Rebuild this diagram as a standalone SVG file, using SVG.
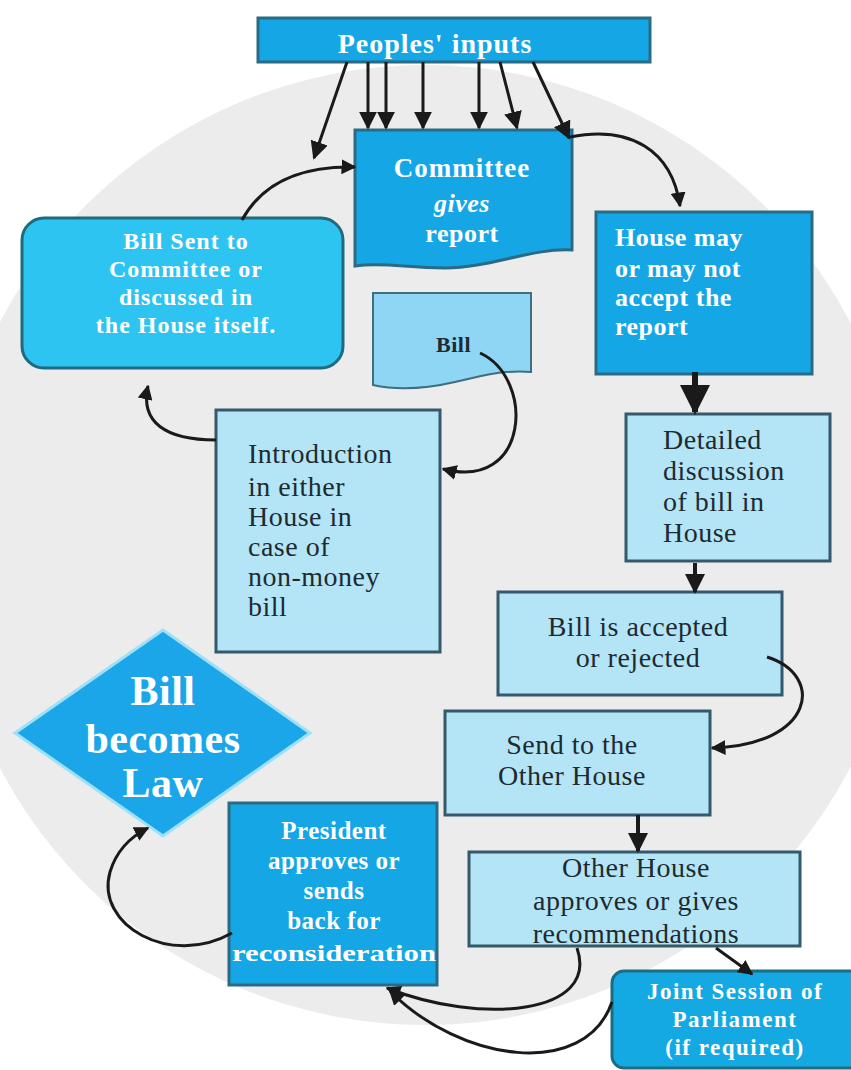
<svg xmlns="http://www.w3.org/2000/svg" width="851" height="1070" viewBox="0 0 851 1070">
<defs>
<style>
.dark{fill:#15a6e6;stroke:#2a6a84;stroke-width:3}
.cyan{fill:#2ec4f1;stroke:#1f6a7e;stroke-width:3}
.light{fill:#b3e5f6;stroke:#33596a;stroke-width:3}
.tw{font-family:"Liberation Serif",serif;font-weight:bold;fill:#ffffff;font-size:26px;letter-spacing:0.5px}
.tb{font-family:"Liberation Serif",serif;fill:#1e2a30;font-size:28px;letter-spacing:0.5px}
.c{text-anchor:middle}
.con path,.con line{fill:none;stroke:#1a1a1a;stroke-width:3}
</style>
<marker id="ah" viewBox="0 0 10 10" refX="9" refY="5" markerWidth="5" markerHeight="5" orient="auto" markerUnits="strokeWidth">
<path d="M0,0 L10,5 L0,10 Z" fill="#1a1a1a"/>
</marker>
<marker id="as" viewBox="0 0 10 10" refX="9" refY="5" markerWidth="6" markerHeight="6" orient="auto" markerUnits="strokeWidth">
<path d="M0,0 L10,5 L0,10 Z" fill="#1a1a1a"/>
</marker>
</defs>
<rect width="851" height="1070" fill="#ffffff"/>
<circle cx="425" cy="545" r="480" fill="#ececec"/>

<g id="inputs">
<rect x="258" y="18" width="392" height="44" class="dark"/>
<text x="435" y="53" class="tw c" style="font-size:28px;letter-spacing:1px">Peoples' inputs</text>
</g>

<g id="committee">
<path d="M355 130 H572 V250 C530 248 490 268 445 268 C405 268 385 262 355 266 Z" class="dark"/>
<text x="462" y="177" class="tw c" style="font-size:27px;letter-spacing:1px">Committee</text>
<text x="462" y="212" class="tw c" style="font-style:italic">gives</text>
<text x="462" y="242" class="tw c">report</text>
</g>

<g id="billsent">
<rect x="22" y="218" width="321" height="150" rx="22" class="cyan"/>
<text x="186" y="249" class="tw c" style="font-size:24px;letter-spacing:1px">Bill Sent to</text>
<text x="186" y="277" class="tw c" style="font-size:24px;letter-spacing:1px">Committee or</text>
<text x="186" y="305" class="tw c" style="font-size:24px;letter-spacing:1px">discussed in</text>
<text x="186" y="333" class="tw c" style="font-size:24px;letter-spacing:1px">the House itself.</text>
</g>

<g id="bill">
<path d="M373 293 H531 V372 C500 370 480 376 455 382 C420 390 395 390 373 385 Z" fill="#8fd6f4" stroke="#3d6f80" stroke-width="2"/>
<text x="436" y="352" class="tb" style="font-weight:bold;font-size:22px">Bill</text>
</g>

<g id="housemay">
<rect x="596" y="212" width="216" height="162" class="dark"/>
<text x="615" y="246" class="tw">House may</text>
<text x="615" y="277" class="tw">or may not</text>
<text x="615" y="306" class="tw">accept the</text>
<text x="615" y="335" class="tw">report</text>
</g>

<g id="detailed">
<rect x="626" y="414" width="204" height="147" class="light"/>
<text x="663" y="449" class="tb">Detailed</text>
<text x="663" y="480" class="tb">discussion</text>
<text x="663" y="511" class="tb">of bill in</text>
<text x="663" y="542" class="tb">House</text>
</g>

<g id="introduction">
<rect x="216" y="410" width="224" height="242" class="light"/>
<text x="248" y="463" class="tb">Introduction</text>
<text x="248" y="496" class="tb">in either</text>
<text x="248" y="526" class="tb">House in</text>
<text x="248" y="556" class="tb">case of</text>
<text x="248" y="586" class="tb">non-money</text>
<text x="248" y="616" class="tb">bill</text>
</g>

<g id="accepted">
<rect x="498" y="592" width="284" height="103" class="light"/>
<text x="638" y="636" class="tb c">Bill is accepted</text>
<text x="638" y="667" class="tb c">or rejected</text>
</g>

<g id="sendother">
<rect x="445" y="711" width="265" height="104" class="light"/>
<text x="572" y="754" class="tb c">Send to the</text>
<text x="572" y="785" class="tb c">Other House</text>
</g>

<g id="otherhouse">
<rect x="469" y="852" width="331" height="94" class="light"/>
<text x="636" y="877" class="tb c">Other House</text>
<text x="636" y="910" class="tb c">approves or gives</text>
<text x="636" y="943" class="tb c">recommendations</text>
</g>

<g id="joint">
<rect x="612" y="971" width="250" height="97" rx="12" fill="#14a9e3" stroke="#1b6d82" stroke-width="3"/>
<text x="735" y="999" class="tw c" style="font-size:23px;letter-spacing:1.5px">Joint Session of</text>
<text x="735" y="1027" class="tw c" style="font-size:23px;letter-spacing:1.5px">Parliament</text>
<text x="735" y="1055" class="tw c" style="font-size:23px;letter-spacing:1.5px">(if required)</text>
</g>

<g id="president">
<rect x="229" y="803" width="208" height="182" class="dark" stroke-width="2"/>
<text x="334" y="839" class="tw c" style="font-size:25px">President</text>
<text x="334" y="869" class="tw c" style="font-size:25px">approves or</text>
<text x="334" y="899" class="tw c" style="font-size:25px">sends</text>
<text x="334" y="929" class="tw c" style="font-size:25px">back for</text>
<text x="334" y="961" class="tw c" style="font-size:23px;letter-spacing:0" textLength="204" lengthAdjust="spacingAndGlyphs">reconsideration</text>
</g>

<g id="billlaw">
<path d="M163 630 L310 733 L163 836 L15 733 Z" fill="#1aa6e8" stroke="#9de0f8" stroke-width="3"/>
<text x="163" y="705" class="tw c" style="font-size:42px">Bill</text>
<text x="163" y="753" class="tw c" style="font-size:42px">becomes</text>
<text x="163" y="797" class="tw c" style="font-size:42px">Law</text>
</g>

<g id="connectors" class="con">
<line x1="347" y1="62" x2="314" y2="158" marker-end="url(#as)" stroke-width="2"/>
<line x1="368" y1="62" x2="368" y2="128" marker-end="url(#as)" stroke-width="2"/>
<line x1="386" y1="62" x2="386" y2="128" marker-end="url(#as)" stroke-width="2"/>
<line x1="423" y1="62" x2="423" y2="128" marker-end="url(#as)" stroke-width="2"/>
<line x1="479" y1="62" x2="479" y2="128" marker-end="url(#as)" stroke-width="2"/>
<line x1="500" y1="62" x2="517" y2="128" marker-end="url(#as)" stroke-width="2"/>
<line x1="533" y1="62" x2="569" y2="138" marker-end="url(#as)" stroke-width="2"/>
<path d="M242 220 Q272 165 355 167" marker-end="url(#ah)"/>
<path d="M570 137 C630 125 672 150 680 206" marker-end="url(#ah)"/>
<path d="M695 372 V412" marker-end="url(#ah)" style="stroke-width:6"/>
<path d="M695 563 V592" marker-end="url(#ah)" style="stroke-width:4"/>
<path d="M480 353 C535 378 530 492 443 469" marker-end="url(#ah)"/>
<path d="M216 440 C165 440 140 422 148 386" marker-end="url(#ah)"/>
<path d="M767 657 C825 675 815 745 712 748" marker-end="url(#ah)"/>
<path d="M638 815 V851" marker-end="url(#ah)" style="stroke-width:4"/>
<path d="M716 948 L752 974" marker-end="url(#ah)"/>
<path d="M577 948 C600 1015 480 1025 387 988" marker-end="url(#ah)"/>
<path d="M612 1002 C585 1080 460 1062 390 991" marker-end="url(#ah)"/>
<path d="M232 933 C170 968 95 925 110 872 C116 852 128 838 148 828" marker-end="url(#ah)"/>
</g>
</svg>
